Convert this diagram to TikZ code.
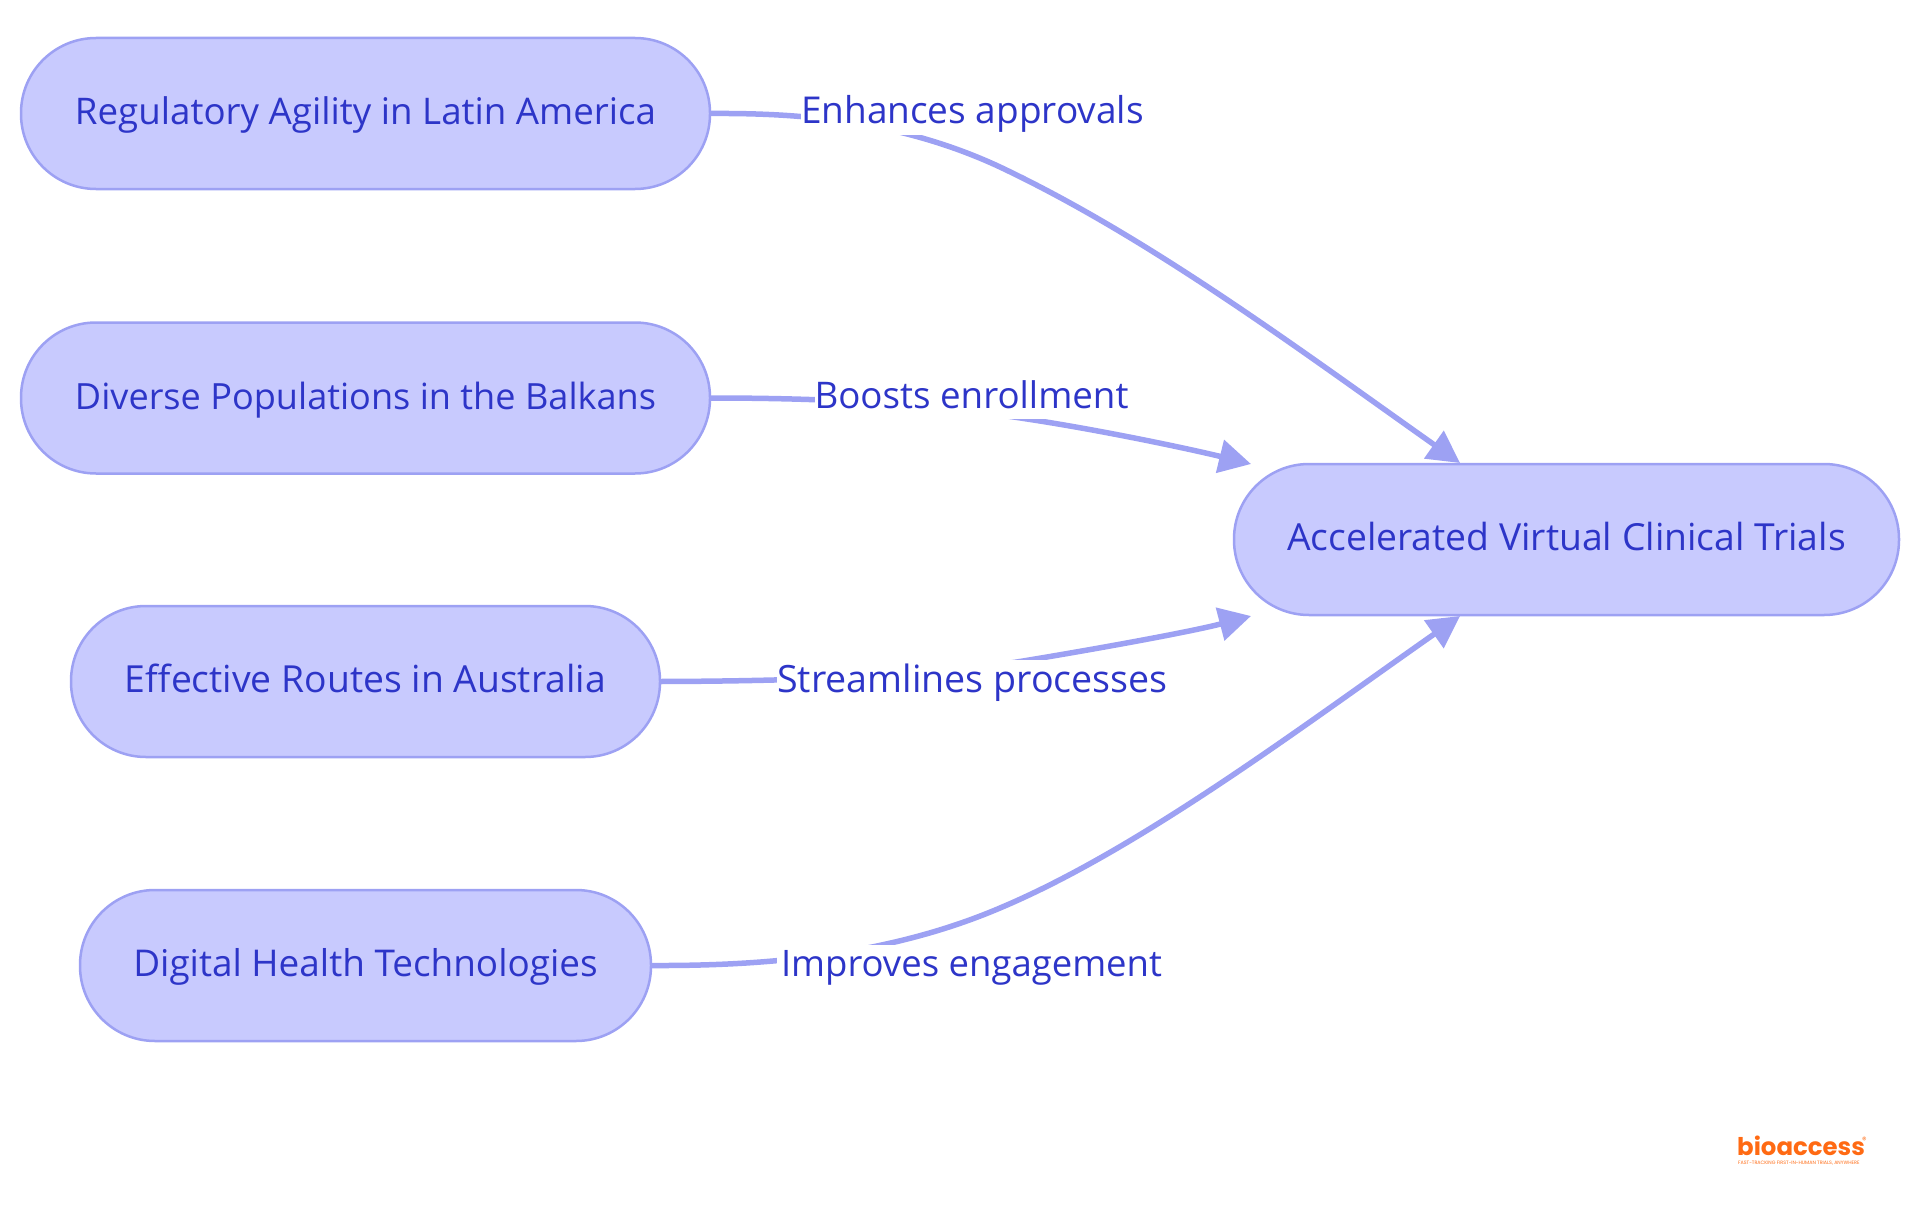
\documentclass[tikz,border=0pt]{standalone}
\usepackage{fontspec}
\usetikzlibrary{arrows.meta}
\setmainfont{Open Sans}
\newfontfamily\logofont{Poppins}
\definecolor{nodefill}{HTML}{C8CAFE}
\definecolor{edgeblue}{HTML}{9DA1F3}
\definecolor{inkblue}{HTML}{2D35C8}
\definecolor{logoorange}{HTML}{FF6A13}
\newcommand{\fs}[1]{\fontsize{#1}{40}\selectfont}
\tikzset{
  pill/.style={draw=edgeblue,fill=nodefill,line width=2.5pt,rounded corners=75pt,minimum height=151pt,
    inner sep=0pt,outer sep=0pt,text=inkblue,font=\fs{36.7},text height=31pt,text depth=9pt,align=center},
  flow/.style={draw=edgeblue,line width=5.5pt,-{Triangle[length=32pt,width=33pt]}},
  tag/.style={fill=white,inner sep=0pt,outer sep=0pt,anchor=base,text=inkblue,font=\fs{37},text height=32pt,text depth=11pt},
  logotext/.style={inner sep=0pt,anchor=base west,text=logoorange}
}
\begin{document}
\begin{tikzpicture}[x=1pt,y=-1pt]
\useasboundingbox (0,0) rectangle (1920,1215);
\coordinate (t1) at (1460,463);
\coordinate (t2) at (1251,464);
\coordinate (t3) at (1251,616);
\coordinate (t4) at (1460,616);
\coordinate (a1) at (1000,167);
\coordinate (a2) at (1027,419);
\coordinate (a3) at (1023,661);
\coordinate (a4) at (1000,908);
\node[pill,minimum width=689pt] (n1) at (365.5,113.5) {Regulatory Agility in Latin America};
\node[pill,minimum width=689pt,font=\fs{36.1}] (n2) at (365.5,398) {Diverse Populations in the Balkans};
\node[pill,minimum width=589pt,font=\fs{37.3}] (n3) at (365.5,681.5) {Effective Routes in Australia};
\node[pill,minimum width=571pt,font=\fs{36.9}] (n4) at (365.5,965.5) {Digital Health Technologies};
\node[pill,minimum width=665pt,font=\fs{37.3}] (t) at (1566.5,539.5) {Accelerated Virtual Clinical Trials};
\draw[flow] (n1.east) .. controls (790,113) and (895,118) .. (a1) .. controls (1150,238) and (1300,350) .. (t1);
\draw[flow] (n2.east) .. controls (860,398) and (950,407) .. (a2) .. controls (1100,430) and (1190,449) .. (t2);
\draw[flow] (n3.east) .. controls (840,681) and (950,673) .. (a3) .. controls (1090,650) and (1190,632) .. (t3);
\draw[flow] (n4.east) .. controls (760,966) and (885,957) .. (a4) .. controls (1140,849) and (1300,728) .. (t4);
\node[tag,minimum width=344pt] (l1) at (972.5,123.5) {Enhances approvals};
\node[tag,minimum width=313pt,font=\fs{36.7}] (l2) at (971.5,408) {Boosts enrollment};
\node[tag,minimum width=391pt,font=\fs{37.6}] (l3) at (972.5,692) {Streamlines processes};
\node[tag,minimum width=389pt,font=\fs{36.5}] (l4) at (971.5,976.5) {Improves engagement};
\node[logotext,font=\logofont\bfseries\fontsize{24.4}{25}\selectfont,text depth=0pt,text height=16pt] (logo) at (1737,1155) {bioaccess};
\node[logotext,font=\logofont\fontsize{9}{9}\selectfont,text depth=0pt,text height=6pt] (reg) at (1862,1143) {®};
\node[logotext,font=\logofont\fontsize{4.8}{5}\selectfont,text depth=0pt,text height=4pt] (slogan) at (1738,1164) {FAST-TRACKING FIRST-IN-HUMAN TRIALS, ANYWHERE};
\end{tikzpicture}
\end{document}
